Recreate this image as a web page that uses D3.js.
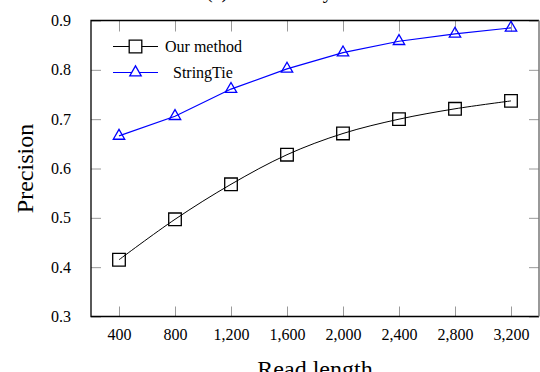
<!DOCTYPE html>
<html>
<head>
<meta charset="utf-8">
<script src="https://cdn.jsdelivr.net/npm/d3@7"></script>
<style>
  body { margin: 0; background: #fff; }
  svg { display: block; font-family: "Liberation Serif", "DejaVu Serif", serif; }
</style>
</head>
<body>
<div class="vis-holder"></div>
<script>
// read lengths on the x axis
var readLengths = [400, 800, 1200, 1600, 2000, 2400, 2800, 3200];
// precision values
var ourMethod = [0.415, 0.497, 0.568, 0.628, 0.671, 0.700, 0.721, 0.737];
var stringTie = [0.666, 0.706, 0.761, 0.802, 0.835, 0.858, 0.873, 0.885];
var yTicks = [0.3, 0.4, 0.5, 0.6, 0.7, 0.8, 0.9];
var seriesNames = ["Our method", "StringTie"];

var width = 540;
var height = 372;
var margin = { top: 20.5, bottom: 55.5, left: 91, right: 1 };

var svg = d3.select(".vis-holder")
            .append("svg")
            .attr("width", width)
            .attr("height", height);

var xScale = d3.scaleLinear()
               .domain([200, 3400])
               .range([margin.left, width - margin.right]);

var yScale = d3.scaleLinear()
               .domain([0.3, 0.9])
               .range([height - margin.bottom, margin.top]);

var fmt = d3.format(",");
var tickColor = "#9a9a9a";

// inner ticks on all four sides
function styleAxis(g) {
  g.select(".domain").remove();
  g.selectAll(".tick line").attr("stroke", tickColor).attr("stroke-width", 1);
  g.selectAll(".tick text").attr("font-size", 16).attr("fill", "#000")
   .attr("font-family", "Liberation Serif");
}

svg.append("g")
   .attr("transform", `translate(0, ${height - margin.bottom})`)
   .call(d3.axisBottom(xScale).tickValues(readLengths).tickFormat(fmt).tickSize(-10).tickPadding(12))
   .call(styleAxis);

svg.append("g")
   .attr("transform", `translate(0, ${margin.top})`)
   .call(d3.axisTop(xScale).tickValues(readLengths).tickFormat("").tickSize(-11))
   .call(styleAxis);

svg.append("g")
   .attr("transform", `translate(${margin.left}, 0)`)
   .call(d3.axisLeft(yScale).tickValues(yTicks).tickFormat(d3.format(".1f")).tickSize(-10).tickPadding(20))
   .call(styleAxis);

svg.append("g")
   .attr("transform", `translate(${width - margin.right}, 0)`)
   .call(d3.axisRight(yScale).tickValues(yTicks).tickFormat("").tickSize(-10))
   .call(styleAxis);

// frame
var x0 = margin.left, x1 = width - margin.right;
var y0 = margin.top, y1 = height - margin.bottom;
svg.append("path")
   .attr("d", `M${x1},${y0}L${x0},${y0}L${x0},${y1}L${x1},${y1}`)
   .attr("fill", "none").attr("stroke", "#000").attr("stroke-width", 1.3);
svg.append("line")
   .attr("x1", x1).attr("x2", x1).attr("y1", y0).attr("y2", y1)
   .attr("stroke", "#777").attr("stroke-width", 1.5);

var smoothLine = d3.line()
             .x(function(d) { return xScale(d[0]); })
             .y(function(d) { return yScale(d[1]); })
             .curve(d3.curveCatmullRom.alpha(0.5));

var straightLine = d3.line()
             .x(function(d) { return xScale(d[0]); })
             .y(function(d) { return yScale(d[1]); });

var ourData = d3.zip(readLengths, ourMethod);
var tieData = d3.zip(readLengths, stringTie);

svg.append("path")
   .attr("d", smoothLine(ourData))
   .attr("fill", "none").attr("stroke", "#000").attr("stroke-width", 1);

svg.append("path")
   .attr("d", straightLine(tieData))
   .attr("fill", "none").attr("stroke", "#0000ff").attr("stroke-width", 1.2);

// marker shapes
var sq = 6.3;
function squarePath(cx, cy) {
  return `M${cx - sq},${cy - sq}h${2 * sq}v${2 * sq}h${-2 * sq}Z`;
}
var tr = 6.6;
function trianglePath(cx, cy) {
  var hw = tr * Math.sqrt(3) / 2;
  return `M${cx},${cy - tr}L${cx + hw},${cy + tr / 2}L${cx - hw},${cy + tr / 2}Z`;
}

svg.append("g").selectAll("path")
   .data(ourData).enter().append("path")
   .attr("d", function(d) { return squarePath(xScale(d[0]), yScale(d[1])); })
   .attr("fill", "none").attr("stroke", "#000").attr("stroke-width", 1.3);

svg.append("g").selectAll("path")
   .data(tieData).enter().append("path")
   .attr("d", function(d) { return trianglePath(xScale(d[0]), yScale(d[1])); })
   .attr("fill", "none").attr("stroke", "#0000ff").attr("stroke-width", 1.3);

// legend
var legend = svg.append("g");
legend.append("line").attr("x1", 113).attr("x2", 158).attr("y1", 46.5).attr("y2", 46.5)
      .attr("stroke", "#000").attr("stroke-width", 1);
legend.append("path").attr("d", squarePath(135.5, 46.5))
      .attr("fill", "#fff").attr("stroke", "#000").attr("stroke-width", 1.3);
legend.append("text").attr("x", 165).attr("y", 52).attr("font-size", 16).text(seriesNames[0]);

legend.append("line").attr("x1", 113).attr("x2", 158).attr("y1", 72.5).attr("y2", 72.5)
      .attr("stroke", "#0000ff").attr("stroke-width", 1.2);
legend.append("path").attr("d", trianglePath(135.5, 72.5))
      .attr("fill", "#fff").attr("stroke", "#0000ff").attr("stroke-width", 1.3);
legend.append("text").attr("x", 173).attr("y", 78).attr("font-size", 16).text(seriesNames[1]);

// axis titles
svg.append("text")
   .attr("text-anchor", "middle")
   .attr("font-size", 24)
   .attr("transform", "translate(" + ((x0 + x1) / 2) + "," + 377 + ")")
   .text("Read length");

svg.append("text")
   .attr("text-anchor", "middle")
   .attr("font-size", 24)
   .attr("transform", "translate(33," + ((y0 + y1) / 2) + ")rotate(-90)")
   .text("Precision");

// chart title, mostly above the visible area
svg.append("text")
   .attr("x", 206)
   .attr("y", -2)
   .attr("font-size", 20)
   .text("(a) Precision by method");
</script>
</body>
</html>
